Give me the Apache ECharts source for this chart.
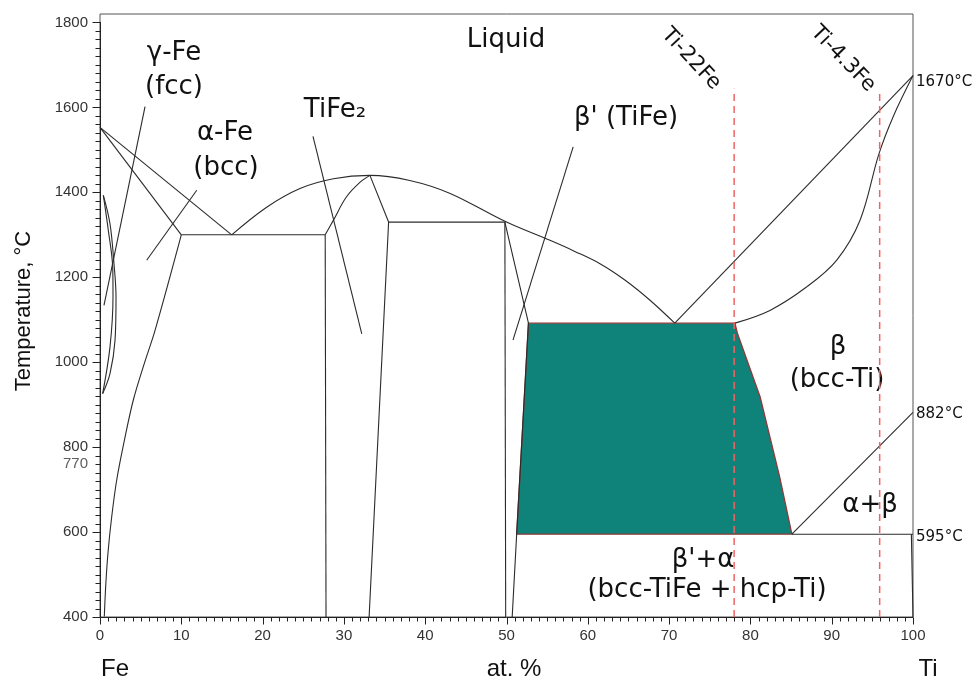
<!DOCTYPE html>
<html>
<head>
<meta charset="utf-8">
<script src="https://cdn.jsdelivr.net/npm/echarts@6/dist/echarts.min.js"></script>
<style>
  html, body { margin: 0; background: #fff; }
  #chart { width: 975px; height: 680px; }
</style>
</head>
<body>
<div id="chart"></div>
<script>
// Fe-Ti phase diagram, points are [at.% Ti, temperature °C]
const gammaOuter = [[0.41, 1393], [1.23, 1326], [1.72, 1232], [1.97, 1154], [1.85, 1052], [1.23, 973], [0.33, 926]]
const gammaInner = [[0.41, 1393], [1.02, 1311], [1.56, 1224], [1.6, 1154], [1.23, 1036], [0.33, 926]]
const feLiquidus = [[0, 1553], [16.2, 1300]]
const feSolidus = [[0, 1553], [10, 1300]]
const feSolvus = [[10, 1300], [6.77, 1075], [5.5, 1000], [4.1, 911], [3.0, 816], [2.05, 722], [1.44, 636], [1.0, 555], [0.72, 479], [0.53, 401]]
const eutectic1300 = [[10, 1300], [27.7, 1300]]
const liquidusArc = [[16.2, 1300], [20.5, 1365], [24.6, 1409], [28.7, 1432], [33.2, 1440], [38.1, 1428], [43, 1398], [50, 1330], [55.35, 1287], [58.4, 1261], [61.5, 1232], [64.6, 1193], [67.65, 1146], [70.7, 1092]]
const tife2Liquidus = [[27.7, 1300], [28.7, 1334], [30.3, 1389], [32, 1424], [33.2, 1440]]
const tife2Left = [[27.7, 1300], [27.8, 400]]
const tife2Right = [[33.2, 1440], [35.5, 1330], [33.1, 400]]
const peritectic1330 = [[35.5, 1330], [49.8, 1330]]
const tifeLeft = [[49.8, 1330], [49.9, 400]]
const tifeRight = [[49.8, 1330], [52.7, 1092], [51.25, 595], [50.7, 400]]
const tiLiquidus = [[70.7, 1092], [100, 1675]]
const tiSolidus = [[78.1, 1092], [82.4, 1122], [86.9, 1177], [90.6, 1240], [93.5, 1335], [95.8, 1490], [97.6, 1580], [100, 1675]]
const betaTransus = [[85.1, 595], [100, 882]]
const eutectoid595 = [[85.1, 595], [100, 595]]
const tiSolvus = [[99.8, 595], [100, 400]]
const twoPhase = [[52.7, 1092], [78.1, 1092], [78.4, 1068], [81.2, 918], [83.6, 730], [85.1, 595], [51.25, 595]]
// pointer lines from the labels
const leaders = [
  [[5.54, 1602], [0.49, 1134]],
  [[11.9, 1405], [5.74, 1240]],
  [[26.2, 1532], [32.2, 1067]],
  [[58.2, 1507], [50.8, 1052]]
]
// alloys: Ti-22Fe, Ti-4.3Fe
const alloys = [[[78, 400], [78, 1644]], [[95.9, 400], [95.9, 1636]]]
const extraTicks = [770]

const ink = '#2b2b2b'
const region = 'DejaVu Sans'
const sans = 'Liberation Sans'

function phaseLine (data, smooth) {
  return {
    type: 'line', xAxisIndex: 0, yAxisIndex: 0, data: data, clip: false,
    showSymbol: false, symbol: 'none', smooth: smooth ? 0.35 : false,
    lineStyle: { color: ink, width: 1.1 }, z: 3
  }
}

// tick marks, placed through the axes (every 1 at.% and every 20 °C)
function tickMarks (params, api) {
  const marks = []
  const seg = (a, b) => marks.push({
    type: 'polyline', shape: { points: [a, b] },
    style: { stroke: '#222', lineWidth: 1, fill: null }
  })
  for (let t = 400; t <= 1800; t += 20) {
    const p = api.coord([0, t])
    const y = Math.round(p[1]) + 0.5
    const x = Math.round(p[0]) + 0.5
    seg([x, y], [x - (t % 200 === 0 ? 8 : 5), y])
  }
  for (let c = 0; c <= 100; c += 1) {
    const p = api.coord([c, 400])
    const x = Math.round(p[0]) + 0.5
    const y = Math.round(p[1]) + 0.5
    seg([x, y], [x, y + (c % 10 === 0 ? 7 : 4)])
  }
  return { type: 'group', children: marks }
}

let series = [
  {
    type: 'custom', xAxisIndex: 0, yAxisIndex: 0, data: [0], silent: true, z: 1,
    renderItem: function (params, api) {
      return {
        type: 'polygon',
        shape: { points: twoPhase.map(p => api.coord(p)) },
        style: { fill: '#0f8279', stroke: '#8e3b3b', lineWidth: 1.3 }
      }
    }
  },
  { type: 'custom', xAxisIndex: 0, yAxisIndex: 0, data: [0], silent: true, z: 10, renderItem: tickMarks }
]
;[gammaOuter, gammaInner, feSolvus, liquidusArc, tife2Liquidus, tiSolidus].forEach(d => series.push(phaseLine(d, true)))
;[feLiquidus, feSolidus, eutectic1300, tife2Left, tife2Right, peritectic1330, tifeLeft, tifeRight,
  tiLiquidus, betaTransus, eutectoid595, tiSolvus].forEach(d => series.push(phaseLine(d, false)))
leaders.forEach(l => series.push(phaseLine(l, false)))
alloys.forEach(a => series.push({
  type: 'line', xAxisIndex: 0, yAxisIndex: 0, data: a, symbol: 'none', clip: false, z: 5,
  lineStyle: { color: '#f26464', width: 1.5, type: [7, 5] }
}))
series.push({
  type: 'scatter', xAxisIndex: 1, yAxisIndex: 1, symbolSize: 0, silent: true,
  data: extraTicks.map(v => [0, v]),
  label: { show: true, position: 'left', distance: 12, offset: [0, 4], formatter: p => String(p.value[1]),
    fontFamily: sans, fontSize: 15, color: '#333' }
})

function txt (x, y, text, size, font, rotation) {
  return {
    type: 'text', x: x, y: y, silent: true, rotation: rotation || 0,
    style: { text: text, fontSize: size, fontFamily: font || region, fill: '#111', align: 'center', verticalAlign: 'middle' }
  }
}
function note (x, y, text) {
  return {
    type: 'text', x: x, y: y, silent: true,
    style: { text: text, fontSize: 15, fontFamily: region, fill: '#111', align: 'left', verticalAlign: 'middle' }
  }
}

let option = {
  animation: false,
  backgroundColor: '#fff',
  grid: [
    { left: 100, right: 62, top: 14, bottom: 63, show: true, borderColor: '#555', borderWidth: 1 },
    { left: 100, right: 62, top: 22.5, bottom: 63 }
  ],
  xAxis: [
    {
      gridIndex: 0, type: 'value', min: 0, max: 100, interval: 10,
      axisLine: { show: true, lineStyle: { color: '#222' } },
      axisTick: { show: false },
      axisLabel: { fontFamily: sans, fontSize: 15, color: '#333', margin: 11 },
      splitLine: { show: false }
    },
    { gridIndex: 1, type: 'value', min: 0, max: 100, show: false }
  ],
  yAxis: [
    { gridIndex: 0, type: 'value', min: 400, max: 1820, show: false },
    {
      gridIndex: 1, type: 'value', min: 400, max: 1800, interval: 200,
      axisLine: { show: true, lineStyle: { color: '#222' } },
      axisTick: { show: false },
      axisLabel: { fontFamily: sans, fontSize: 15, color: '#333', margin: 12, formatter: v => String(v) },
      splitLine: { show: false }
    }
  ],
  series: series,
  graphic: [
    txt(174, 53, 'γ-Fe', 26),
    txt(174, 87, '(fcc)', 26),
    txt(225, 133, 'α-Fe', 26),
    txt(226, 168, '(bcc)', 26),
    txt(335, 110, 'TiFe₂', 26),
    txt(506, 40, 'Liquid', 26),
    txt(626, 118, "β' (TiFe)", 26),
    txt(838, 347, 'β', 26),
    txt(837, 380, '(bcc-Ti)', 26),
    txt(653, 432, "β+β'", 26),
    txt(870, 505, 'α+β', 26),
    txt(703, 560, "β'+α", 26),
    txt(707, 590, '(bcc-TiFe + hcp-Ti)', 26),
    txt(691, 59, 'Ti-22Fe', 21, region, -0.82),
    txt(843, 59, 'Ti-4.3Fe', 21, region, -0.8),
    note(916, 82, '1670°C'),
    note(916, 414, '882°C'),
    note(916, 537, '595°C'),
    txt(115, 669, 'Fe', 24, sans),
    txt(514, 669, 'at. %', 24, sans),
    txt(928, 669, 'Ti', 24, sans),
    txt(24, 311, 'Temperature, °C', 22, sans, Math.PI / 2)
  ]
}

const chart = echarts.init(document.getElementById('chart'))
chart.setOption(option)
</script>
</body>
</html>
